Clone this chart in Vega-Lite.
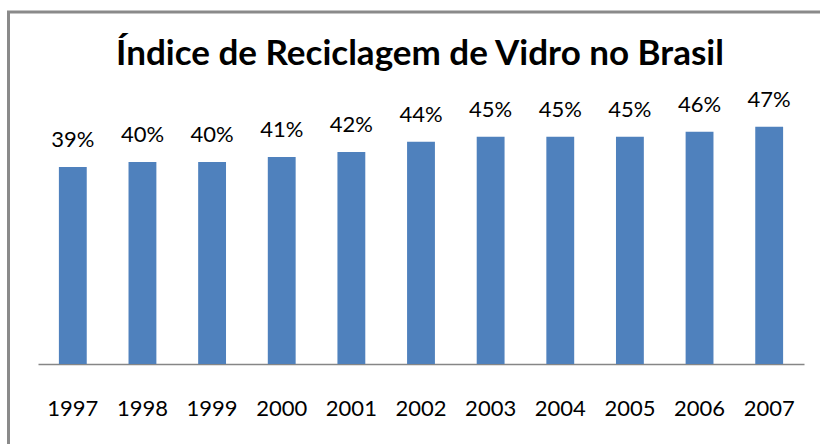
{
  "$schema": "https://vega.github.io/schema/vega-lite/v6.json",
  "autosize": "none",
  "padding": {"left": 8.5, "top": 12, "right": 0, "bottom": 0},
  "width": 823,
  "height": 460,
  "background": "white",
  "config": {
    "view": {"stroke": "#8a8a8a", "strokeWidth": 3},
    "font": "Lato"
  },
  "title": {
    "text": "Índice de Reciclagem de Vidro no Brasil",
    "font": "Lato",
    "fontSize": 35,
    "fontWeight": "bold",
    "color": "#000000",
    "anchor": "middle",
    "frame": "group",
    "baseline": "alphabetic",
    "offset": -88
  },
  "data": {
    "values": [
      {"ano": "1997", "indice": 0.39},
      {"ano": "1998", "indice": 0.40},
      {"ano": "1999", "indice": 0.40},
      {"ano": "2000", "indice": 0.41},
      {"ano": "2001", "indice": 0.42},
      {"ano": "2002", "indice": 0.44},
      {"ano": "2003", "indice": 0.45},
      {"ano": "2004", "indice": 0.45},
      {"ano": "2005", "indice": 0.45},
      {"ano": "2006", "indice": 0.46},
      {"ano": "2007", "indice": 0.47}
    ]
  },
  "encoding": {
    "x": {
      "field": "ano",
      "type": "ordinal",
      "scale": {"range": [29.5, 795.5], "paddingInner": 0.6, "paddingOuter": 0.3},
      "axis": {
        "title": null,
        "orient": "bottom",
        "offset": -108,
        "labelAngle": 0,
        "labelFont": "Lato",
        "labelFontSize": 22,
        "labelColor": "#000000",
        "labelPadding": 34,
        "ticks": false,
        "domainColor": "#868686",
        "domainWidth": 1.5,
        "grid": false
      }
    },
    "y": {
      "field": "indice",
      "type": "quantitative",
      "scale": {"domain": [0, 0.5], "range": [352, 99.5]},
      "axis": null
    }
  },
  "layer": [
    {"mark": {"type": "bar", "color": "#4F81BD"}},
    {
      "mark": {"type": "text", "baseline": "alphabetic", "dy": -20, "font": "Lato", "fontSize": 22, "color": "#000000"},
      "encoding": {"text": {"field": "indice", "type": "quantitative", "format": ".0%"}}
    }
  ]
}
